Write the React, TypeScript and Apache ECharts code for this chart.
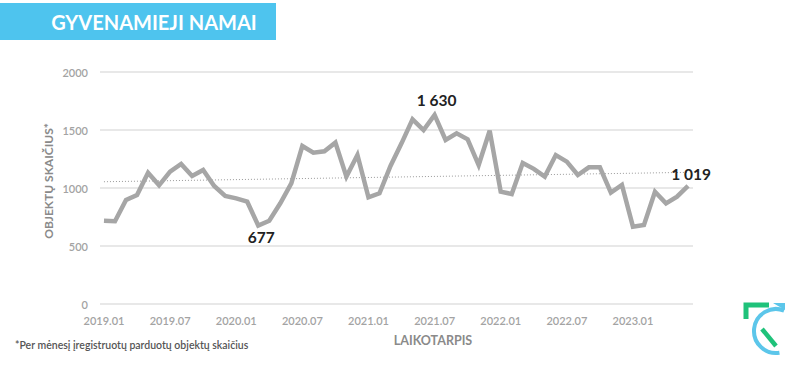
import React, { useEffect, useRef } from "react";
import * as echarts from "echarts";

const years = ["2019", "2020", "2021", "2022", "2023"];
const months = ["01", "02", "03", "04", "05", "06", "07", "08", "09", "10", "11", "12"];
const categories: string[] = [];
years.forEach((y) => months.forEach((m) => { if (categories.length < 54) categories.push(`${y}.${m}`); }));

const values = [
  718, 713, 897, 940, 1132, 1023, 1141, 1207, 1103, 1155, 1017, 931,
  911, 882, 677, 718, 868, 1040, 1362, 1304, 1316, 1391, 1098, 1284,
  919, 954, 1190, 1385, 1592, 1500, 1630, 1414, 1471, 1420, 1198, 1494,
  968, 948, 1215, 1165, 1098, 1284, 1227, 1112, 1178, 1178, 960, 1026,
  667, 681, 968, 868, 925, 1019,
];

const trendEnds = [1054, 1135];
const yTicks = [0, 500, 1000, 1500, 2000];
const xTickIdx = [0, 6, 12, 18, 24, 30, 36, 42, 48];
const labelled: Record<number, string> = { 14: "bottom", 30: "top", 53: "top" };

const fmt = (v: number) => (v >= 1000 ? `${Math.floor(v / 1000)} ${String(v % 1000).padStart(3, "0")}` : String(v));

export default function App() {
  const ref = useRef<HTMLDivElement>(null);
  useEffect(() => {
    const chart = echarts.init(ref.current!, undefined, { renderer: "svg" });
    const font = "Lato, 'Open Sans', sans-serif";
    chart.setOption({
      animation: false,
      textStyle: { fontFamily: font },
      grid: { left: 100, right: 107, top: 72, bottom: 63 },
      xAxis: {
        type: "value",
        min: -0.36,
        max: 53.45,
        axisLine: { show: false },
        axisTick: { show: false },
        splitLine: { show: false },
        axisLabel: {
          customValues: xTickIdx,
          formatter: (v: number) => categories[Math.round(v)] ?? "",
          color: "#a3a3a3",
          fontSize: 11,
          fontWeight: 600,
          fontFamily: font,
          margin: 11,
        },
      },
      yAxis: {
        type: "value",
        min: yTicks[0],
        max: yTicks[yTicks.length - 1],
        interval: 500,
        axisLine: { show: false },
        axisTick: { show: false },
        splitLine: { lineStyle: { color: "#e8e8e8", width: 2 } },
        axisLabel: {
          formatter: (v: number) => String(v),
          color: "#a3a3a3",
          fontSize: 11,
          fontWeight: 600,
          fontFamily: font,
          margin: 12,
        },
      },
      series: [
        {
          type: "line",
          data: [[0, trendEnds[0]], [values.length - 1, trendEnds[1]]],
          symbol: "none",
          lineStyle: { color: "#9a9a9a", width: 1, type: [1, 2] },
          silent: true,
          z: 1,
        },
        {
          type: "line",
          showAllSymbol: true,
          symbol: "circle",
          symbolSize: 1,
          itemStyle: { color: "rgba(0,0,0,0)" },
          data: values.map((v, i) =>
            labelled[i]
              ? {
                  value: [i, v],
                  label: {
                    show: true,
                    position: labelled[i],
                    distance: 4,
                    offset: i === 53 ? [3, 1] : i === 14 ? [3, -1] : [2, -2],
                    formatter: () => fmt(v),
                    color: "#222222",
                    fontSize: 15.5,
                    fontWeight: "bold",
                    fontFamily: font,
                  },
                }
              : [i, v]
          ),
          lineStyle: { color: "#a6a6a6", width: 4.5, join: "miter" },
          z: 2,
        },
      ],
      graphic: [
        { type: "rect", shape: { x: 0, y: 3, width: 276, height: 37 }, style: { fill: "#4ec4ee" } },
        {
          type: "text",
          x: 154,
          y: 22,
          style: {
            text: "GYVENAMIEJI NAMAI",
            fill: "#ffffff",
            font: `bold 20px ${font}`,
            align: "center",
            verticalAlign: "middle",
          },
        },
        {
          type: "text",
          x: 48,
          y: 181,
          rotation: Math.PI / 2,
          style: {
            text: "OBJEKTŲ SKAIČIUS*",
            fill: "#8a8a8a",
            font: `bold 12px ${font}`,
            align: "center",
            verticalAlign: "middle",
          },
        },
        {
          type: "text",
          x: 433,
          y: 340,
          style: {
            text: "LAIKOTARPIS",
            fill: "#8a8a8a",
            font: `bold 12.5px ${font}`,
            align: "center",
            verticalAlign: "middle",
          },
        },
        {
          type: "text",
          x: 15,
          y: 345,
          style: {
            text: "*Per mėnesį įregistruotų parduotų objektų skaičius",
            fill: "#555555",
            font: `600 10.5px ${font}`,
            align: "left",
            verticalAlign: "middle",
          },
        },
        {
          type: "arc",
          shape: { cx: 776, cy: 331, r: 22, startAngle: Math.PI * 0.45, endAngle: Math.PI * 1.62, clockwise: true },
          style: { stroke: "#5cc6ea", lineWidth: 4, fill: null },
        },
        {
          type: "polyline",
          shape: { points: [[746, 319], [746, 305], [769, 305]] },
          style: { stroke: "#1fc27a", lineWidth: 5, fill: null },
        },
        {
          type: "line",
          shape: { x1: 762, y1: 329, x2: 776, y2: 346 },
          style: { stroke: "#1fc27a", lineWidth: 4.5 },
        },
        {
          type: "polygon",
          shape: { points: [[773, 303], [785, 303], [785, 310]] },
          style: { fill: "#5cc6ea" },
        },
      ],
    });
    return () => chart.dispose();
  }, []);
  return <div ref={ref} style={{ width: 800, height: 367, position: "absolute", left: 0, top: 0 }} />;
}
